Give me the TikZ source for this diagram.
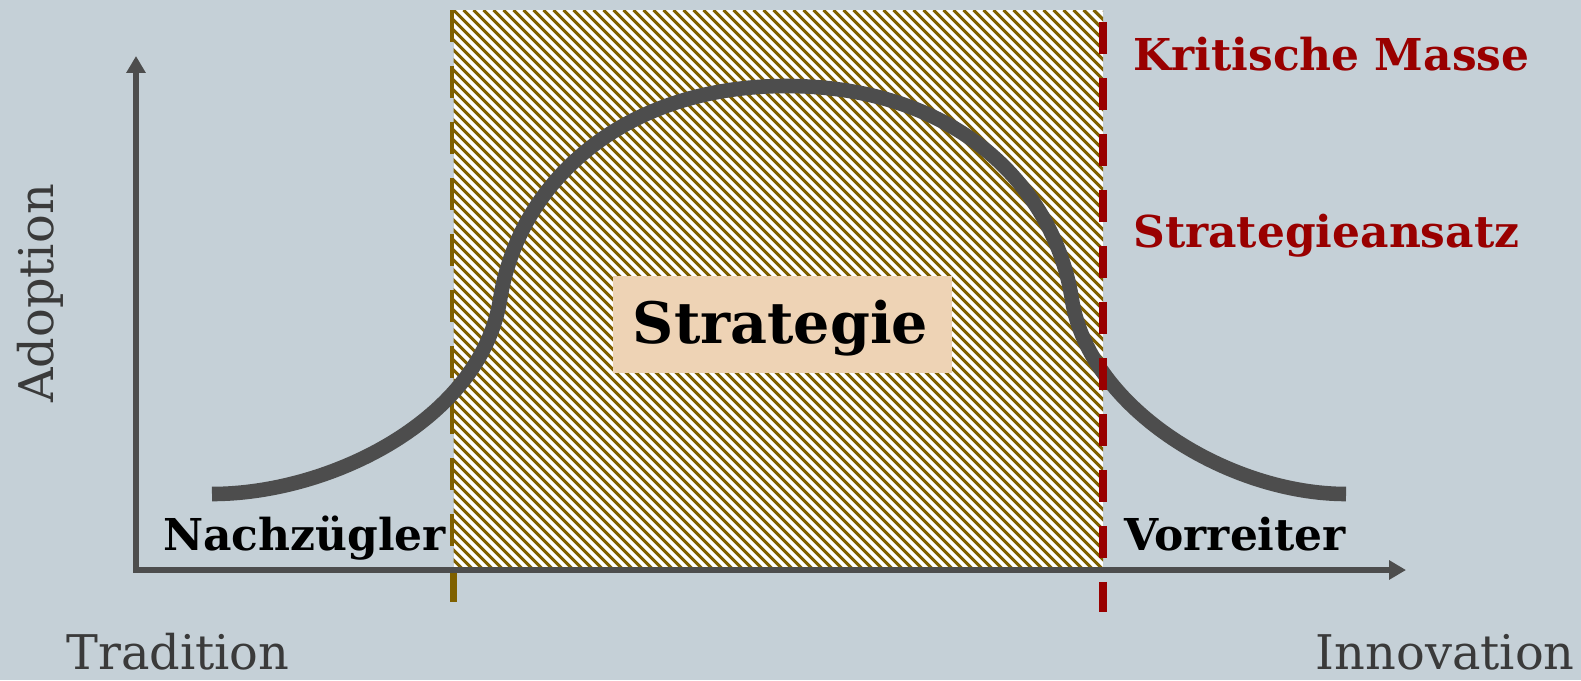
\documentclass[tikz,border=0pt]{standalone}
\usepackage{fontspec}
\setmainfont{DejaVu Serif}
\usetikzlibrary{arrows.meta}
\definecolor{bg}{RGB}{197,208,215}
\definecolor{curvegray}{RGB}{77,77,77}
\definecolor{hatchbrown}{RGB}{127,96,0}
\definecolor{critred}{RGB}{153,0,0}
\definecolor{peach}{RGB}{238,211,181}
\definecolor{labelgray}{RGB}{58,58,58}
\tikzset{
  axisline/.style={draw=curvegray, line width=3.4pt, -{Triangle[width=10.5pt,length=9.6pt]}},
  bellcurve/.style={draw=curvegray, line width=8.3pt, line cap=butt},
  browndash/.style={draw=hatchbrown, line width=4pt, dash pattern=on 18.2pt off 13.66pt},
  reddash/.style={draw=critred, line width=4.5pt, dash pattern=on 18.2pt off 13.66pt},
  hatchline/.style={draw=hatchbrown, line width=1.8pt},
  boldlabel/.style={inner sep=0pt, anchor=base west, font=\bfseries\fontsize{25pt}{30pt}\selectfont},
  axislabel/.style={inner sep=0pt, text=labelgray, font=\fontsize{27.2pt}{32pt}\selectfont},
}
\begin{document}
\begin{tikzpicture}[x=0.02cm,y=-0.02cm]
\useasboundingbox (0,0) rectangle (1581,680);
\fill[bg] (0,0) rectangle (1581,680);
% coordinates
\coordinate (origin) at (136,570);
\coordinate (ytip) at (136,56);
\coordinate (xstart) at (133,570);
\coordinate (xtip) at (1406,570);
\coordinate (btop) at (453.5,10);
\coordinate (bbot) at (453.5,602);
\coordinate (rtop) at (1103,22);
\coordinate (rbot) at (1103,612);
% brown dashed line
\draw[browndash] (btop) -- (bbot);
% hatched area
\begin{scope}
\clip (453.5,10) rectangle (1103,570);
\fill[white] (453.5,10) rectangle (1103,570);
\foreach \k in {0,...,124} {
  \draw[hatchline] ({453.5-570+\k*10},10) -- ++(600,600);
}
\end{scope}
% bell curve
\draw[bellcurve] (212,494) .. controls (330,494) and (480,420) .. (500,300)
  .. controls (518,185) and (620,86) .. (786,86)
  .. controls (960,86) and (1055,190) .. (1072,300)
  .. controls (1090,410) and (1230,494) .. (1346,494);
% Strategie box
\node[fill=peach, minimum width=339*0.569pt, minimum height=97*0.569pt, inner sep=0pt] (stratbox) at (782.5,324.5) {};
\node[inner sep=0pt, anchor=base, font=\bfseries\fontsize{32.5pt}{38pt}\selectfont] (strat) at (780.5,343) {Strategie};
% red dashed line
\draw[reddash] (rtop) -- (rbot);
% axes
\draw[axisline] (origin) -- (ytip);
\draw[axisline] (xstart) -- (xtip);
% labels
\node[boldlabel, text=critred] (krit) at (1133,70) {Kritische Masse};
\node[boldlabel, text=critred] (ansatz) at (1133,247) {Strategieansatz};
\node[boldlabel] (nach) at (163,550) {Nachzügler};
\node[boldlabel] (vor) at (1124,550) {Vorreiter};
\node[axislabel, anchor=base west] (trad) at (66,669) {Tradition};
\node[axislabel, anchor=base east] (innov) at (1575,669) {Innovation};
\node[axislabel, anchor=base west, rotate=90] (adopt) at (53,403) {Adoption};
\end{tikzpicture}
\end{document}
